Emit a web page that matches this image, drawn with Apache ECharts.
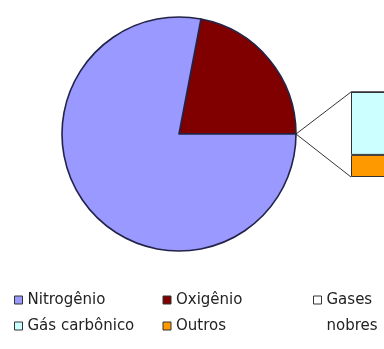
<!DOCTYPE html>
<html><head><meta charset="utf-8">
<script src="https://cdn.jsdelivr.net/npm/echarts@6/dist/echarts.min.js"></script>
<style>html,body{margin:0;padding:0;background:#fff}#c{width:384px;height:349px}</style>
</head><body><div id="c"></div>
<script>
// Pie data (percent of air)
var pieNames = ['Oxigênio', 'Nitrogênio'];
var pieValues = [22, 78];
var pieColors = ['#800000', '#9999FF'];

// Bar of the remainder, stacked bottom -> top
var barNames = ['Outros', 'Gás carbônico', 'Gases nobres'];
var barValues = [0.26, 0.74, 0];
var barColors = ['#FF9900', '#CCFFFF', '#FFFFFF'];

var legendOrder = ['Nitrogênio', 'Oxigênio', 'Gás carbônico', 'Outros'];

var chart = echarts.init(document.getElementById('c'));
var barTotal = barValues.reduce(function (a, b) { return a + b; }, 0);
var pieCenter = [179, 134], pieRadius = 117;
var font = 'DejaVu Sans, sans-serif';

var series = [{
  type: 'pie', center: pieCenter, radius: pieRadius,
  clockwise: false, startAngle: 0, silent: true,
  label: {show: false}, labelLine: {show: false},
  itemStyle: {borderColor: '#232348', borderWidth: 1.6},
  data: pieNames.map(function (n, i) {
    return {name: n, value: pieValues[i], itemStyle: {color: pieColors[i]}};
  })
}];
barNames.forEach(function (n, i) {
  series.push({
    type: 'bar', name: n, stack: 'r', barWidth: '100%', silent: true,
    itemStyle: {color: barColors[i], borderColor: '#333', borderWidth: 1},
    data: [barValues[i]]
  });
});

chart.setOption({
  animation: false,
  grid: {left: 351, top: 92, width: 60, height: 85, outerBoundsMode: 'none', containLabel: false},
  xAxis: {type: 'category', data: ['r'], show: false},
  yAxis: {type: 'value', min: 0, max: barTotal, show: false},
  legend: [{
    data: legendOrder, left: 14, top: 292, width: 300, orient: 'horizontal', padding: 0,
    itemWidth: 8, itemHeight: 8, itemGap: 10, icon: 'rect',
    itemStyle: {borderColor: '#333', borderWidth: 1},
    textStyle: {fontFamily: font, fontSize: 15, color: '#222', width: 125, lineHeight: 16}
  }, {
    data: ['Gases nobres'], left: 313, top: 261, padding: 0,
    itemWidth: 8, itemHeight: 8, icon: 'rect',
    itemStyle: {borderColor: '#333', borderWidth: 1},
    formatter: function () { return '\nGases\nnobres'; },
    textStyle: {fontFamily: font, fontSize: 15, color: '#222', lineHeight: 26}
  }],
  series: series
});

// connector lines from the pie's "other" point to the bar's left corners
var grid = chart.getModel().getComponent('grid').coordinateSystem.getRect();
var px = pieCenter[0] + pieRadius, py = pieCenter[1];
chart.setOption({
  graphic: [
    {type: 'polyline', silent: true, shape: {points: [[grid.x, grid.y], [px, py], [grid.x, grid.y + grid.height]]},
     style: {stroke: '#333', lineWidth: 1, fill: null}}
  ]
});
</script></body></html>
